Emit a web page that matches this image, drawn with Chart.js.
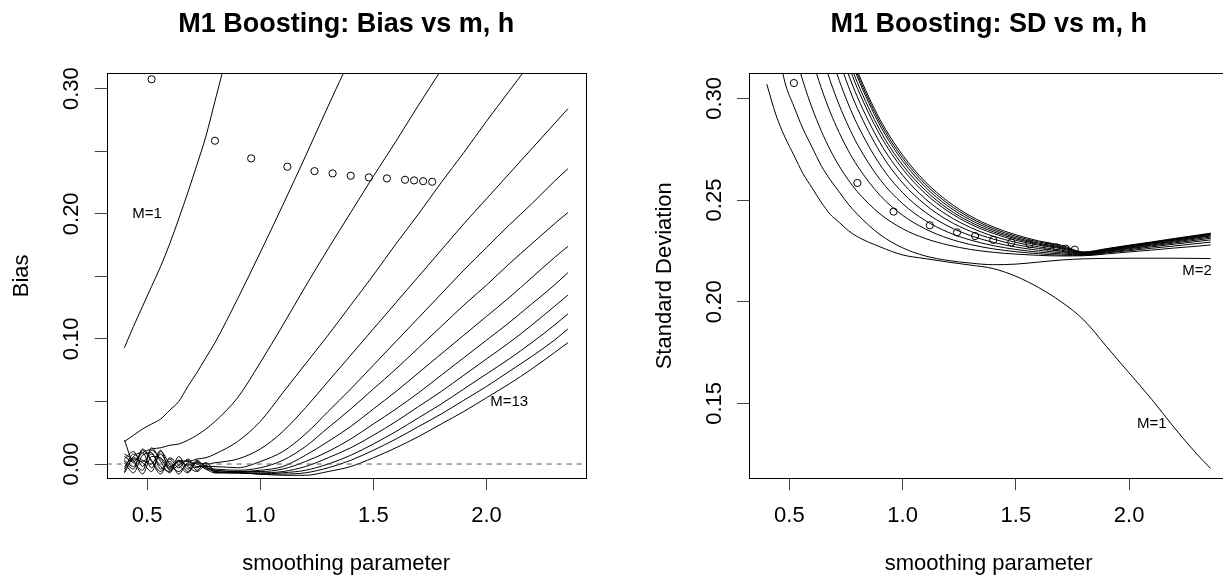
<!DOCTYPE html>
<html>
<head>
<meta charset="utf-8">
<title>M1 Boosting: Bias and SD vs m, h</title>
<script src="https://cdn.jsdelivr.net/npm/chart.js@4.4.1/dist/chart.umd.min.js"></script>
<style>
  html, body { margin: 0; padding: 0; background: #fff; overflow: hidden; }
  #wrap { position: relative; width: 1223px; height: 579px; overflow: hidden; }
  canvas { position: absolute; top: 0; }
  #biasChart { left: 0; }
  #sdChart { left: 611px; }
</style>
</head>
<body>
<div id="wrap">
  <canvas id="biasChart" width="611" height="579"></canvas>
  <canvas id="sdChart" width="640" height="579"></canvas>
</div>
<script>
// smoothing parameter grid (h)
const hGrid = [0.40, 0.44, 0.48, 0.52, 0.56, 0.60, 0.64, 0.68, 0.72, 0.76, 0.80,
               0.90, 1.00, 1.10, 1.20, 1.30, 1.40, 1.50, 1.60, 1.70, 1.80,
               1.90, 2.00, 2.10, 2.20, 2.30, 2.36];
const hMin = 0.3216;
const hMax = 2.4384;

// Bias curves, one per number of boosting steps M
const biasM1  = [0.093, 0.110, 0.126, 0.142, 0.158, 0.176, 0.196, 0.217, 0.239, 0.262, 0.290, 0.360, null, null, null, null, null, null, null, null, null, null, null, null, null, null, null];
const biasM2  = [0.018, 0.023, 0.028, 0.032, 0.036, 0.043, 0.050, 0.062, 0.073, 0.085, 0.097, 0.132, 0.169, 0.207, 0.246, 0.286, 0.325, null, null, null, null, null, null, null, null, null, null];
const biasM3  = [0.019, 0.002, 0.009, 0.012, 0.013, 0.015, 0.016, 0.019, 0.023, 0.028, 0.034, 0.053, 0.081, 0.111, 0.142, 0.172, 0.201, 0.230, 0.258, 0.287, 0.315, null, null, null, null, null, null];
const biasM4  = [0.004, 0.010, -0.002, 0.011, 0.004, -0.004, 0.003, 0.002, 0.004, 0.005, 0.008, 0.018, 0.034, 0.057, 0.080, 0.103, 0.127, 0.151, 0.176, 0.200, 0.225, 0.249, 0.274, 0.298, 0.322, null, null];
const biasM5  = [-0.006, 0.006, 0.009, -0.003, 0.008, -0.002, 0.002, -0.001, 0.001, 0.000, 0.001, 0.004, 0.012, 0.026, 0.045, 0.066, 0.087, 0.108, 0.129, 0.150, 0.171, 0.192, 0.212, 0.232, 0.252, 0.272, 0.284];
const biasM6  = [0.002, -0.004, 0.012, 0.003, -0.006, 0.004, -0.003, 0.004, -0.002, -0.002, -0.002, -0.003, 0.002, 0.010, 0.024, 0.042, 0.060, 0.079, 0.098, 0.117, 0.136, 0.155, 0.173, 0.191, 0.208, 0.226, 0.236];
const biasM7  = [0.006, 0.001, -0.005, 0.013, 0.002, -0.007, 0.006, -0.004, 0.003, -0.003, -0.004, -0.005, -0.003, 0.003, 0.014, 0.029, 0.044, 0.060, 0.076, 0.093, 0.110, 0.127, 0.143, 0.160, 0.176, 0.192, 0.201];
const biasM8  = [-0.004, 0.008, 0.003, 0.000, 0.011, -0.005, -0.001, 0.003, -0.005, 0.001, -0.005, -0.006, -0.005, -0.002, 0.007, 0.018, 0.030, 0.044, 0.058, 0.073, 0.088, 0.103, 0.118, 0.133, 0.149, 0.165, 0.174];
const biasM9  = [0.001, -0.007, 0.007, 0.009, -0.004, 0.002, -0.008, 0.001, 0.000, -0.004, -0.005, -0.006, -0.006, -0.004, 0.002, 0.010, 0.020, 0.032, 0.044, 0.057, 0.071, 0.085, 0.099, 0.113, 0.128, 0.143, 0.153];
const biasM10 = [0.008, 0.003, -0.008, 0.006, 0.005, -0.003, 0.002, -0.006, 0.002, -0.002, -0.006, -0.007, -0.007, -0.006, -0.002, 0.005, 0.013, 0.023, 0.034, 0.046, 0.058, 0.071, 0.084, 0.097, 0.111, 0.126, 0.135];
const biasM11 = [-0.002, 0.005, 0.001, -0.006, 0.010, 0.000, -0.006, 0.000, -0.003, 0.001, -0.006, -0.007, -0.008, -0.007, -0.005, 0.000, 0.007, 0.016, 0.026, 0.037, 0.048, 0.060, 0.072, 0.084, 0.097, 0.111, 0.120];
const biasM12 = [0.003, -0.002, 0.011, 0.002, -0.008, 0.005, -0.001, -0.007, 0.001, -0.004, -0.007, -0.007, -0.008, -0.008, -0.007, -0.003, 0.003, 0.011, 0.020, 0.030, 0.040, 0.051, 0.062, 0.074, 0.086, 0.099, 0.108];
const biasM13 = [-0.007, 0.004, 0.002, 0.008, -0.002, -0.006, 0.003, -0.002, -0.006, -0.001, -0.007, -0.007, -0.008, -0.009, -0.009, -0.006, -0.002, 0.005, 0.013, 0.022, 0.032, 0.042, 0.053, 0.064, 0.076, 0.089, 0.097];

// Standard deviation curves
const sdM1  = [0.307, 0.292, 0.281, 0.272, 0.263, 0.256, 0.249, 0.243, 0.239, 0.235, 0.232, 0.227, 0.223, 0.2212, 0.2195, 0.218, 0.2163, 0.2125, 0.207, 0.200, 0.191, 0.178, 0.165, 0.152, 0.138, 0.125, 0.118];
const sdM2  = [null, 0.330, 0.308, 0.296, 0.285, 0.276, 0.267, 0.260, 0.254, 0.248, 0.243, 0.233, 0.2265, 0.2225, 0.2203, 0.219, 0.2182, 0.2185, 0.2195, 0.2205, 0.2211, 0.2213, 0.2214, 0.2214, 0.2214, 0.2213, 0.2212];
const sdM3  = [null, null, null, 0.3238, 0.3084, 0.2953, 0.2842, 0.2747, 0.2667, 0.2599, 0.2541, 0.2432, 0.2359, 0.2311, 0.2279, 0.2257, 0.2243, 0.2234, 0.2228, 0.2225, 0.2226, 0.2235, 0.2245, 0.2254, 0.2264, 0.2273, 0.2279];
const sdM4  = [null, null, null, null, null, 0.3192, 0.3053, 0.2933, 0.2831, 0.2743, 0.2668, 0.2523, 0.2425, 0.2358, 0.2312, 0.2281, 0.2260, 0.2246, 0.2236, 0.2229, 0.2228, 0.2240, 0.2251, 0.2263, 0.2274, 0.2286, 0.2293];
const sdM5  = [null, null, null, null, null, null, 0.3226, 0.3087, 0.2967, 0.2864, 0.2774, 0.2601, 0.2482, 0.2399, 0.2342, 0.2303, 0.2276, 0.2257, 0.2244, 0.2235, 0.2230, 0.2243, 0.2256, 0.2270, 0.2283, 0.2296, 0.2304];
const sdM6  = [null, null, null, null, null, null, null, 0.3222, 0.3088, 0.2972, 0.2871, 0.2674, 0.2536, 0.2440, 0.2372, 0.2325, 0.2292, 0.2269, 0.2253, 0.2241, 0.2232, 0.2246, 0.2261, 0.2275, 0.2289, 0.2303, 0.2312];
const sdM7  = [null, null, null, null, null, null, null, null, 0.3185, 0.3060, 0.2951, 0.2736, 0.2584, 0.2477, 0.2400, 0.2346, 0.2308, 0.2281, 0.2262, 0.2248, 0.2234, 0.2249, 0.2264, 0.2279, 0.2294, 0.2309, 0.2318];
const sdM8  = [null, null, null, null, null, null, null, null, 0.3249, 0.3120, 0.3007, 0.2782, 0.2622, 0.2506, 0.2424, 0.2365, 0.2322, 0.2292, 0.2270, 0.2254, 0.2236, 0.2252, 0.2267, 0.2283, 0.2298, 0.2314, 0.2323];
const sdM9  = [null, null, null, null, null, null, null, null, null, 0.3165, 0.3050, 0.2820, 0.2653, 0.2532, 0.2445, 0.2381, 0.2336, 0.2302, 0.2278, 0.2261, 0.2238, 0.2254, 0.2270, 0.2286, 0.2302, 0.2317, 0.2327];
const sdM10 = [null, null, null, null, null, null, null, null, null, 0.3195, 0.3078, 0.2843, 0.2672, 0.2548, 0.2457, 0.2391, 0.2344, 0.2309, 0.2283, 0.2265, 0.2240, 0.2256, 0.2272, 0.2288, 0.2304, 0.2320, 0.2330];
const sdM11 = [null, null, null, null, null, null, null, null, null, 0.3225, 0.3106, 0.2867, 0.2692, 0.2564, 0.2470, 0.2402, 0.2352, 0.2315, 0.2288, 0.2268, 0.2241, 0.2257, 0.2274, 0.2290, 0.2307, 0.2323, 0.2333];
const sdM12 = [null, null, null, null, null, null, null, null, null, 0.3238, 0.3120, 0.2882, 0.2707, 0.2578, 0.2482, 0.2412, 0.2360, 0.2322, 0.2294, 0.2273, 0.2243, 0.2259, 0.2276, 0.2292, 0.2309, 0.2325, 0.2335];
const sdM13 = [null, null, null, null, null, null, null, null, null, 0.3250, 0.3134, 0.2896, 0.2721, 0.2590, 0.2493, 0.2421, 0.2368, 0.2329, 0.2299, 0.2278, 0.2245, 0.2261, 0.2278, 0.2294, 0.2311, 0.2327, 0.2337];

// open circles, drawn on both panels
const optH   = [0.52, 0.80, 0.96, 1.12, 1.24, 1.32, 1.40, 1.48, 1.56, 1.64, 1.68, 1.72, 1.76];
const optVal = [0.3075, 0.2584, 0.2443, 0.2376, 0.2341, 0.2323, 0.2304, 0.2291, 0.2283, 0.2272, 0.2267, 0.2261, 0.2256];

// axes
const xTicks = [0.5, 1.0, 1.5, 2.0];
const biasTicks = [0.00, 0.05, 0.10, 0.15, 0.20, 0.25, 0.30];
const biasTickLabels = ['0.00', '', '0.10', '', '0.20', '', '0.30'];
const sdTicks = [0.15, 0.20, 0.25, 0.30];
const sdTickLabels = ['0.15', '0.20', '0.25', '0.30'];

// curve annotations
const biasNotes = ['M=1', 'M=13'];
const biasNoteX = [0.5, 2.1];
const biasNoteY = [0.20, 0.05];
const sdNotes = ['M=2', 'M=1'];
const sdNoteX = [2.3, 2.1];
const sdNoteY = [0.215, 0.14];

const FONT = '"Liberation Sans", Arial, Helvetica, sans-serif';
Chart.defaults.font.family = FONT;
Chart.defaults.color = '#000';

function curve(vals) {
    return {
        data: hGrid.map((h, i) => ({ x: h, y: vals[i] })),
        borderColor: '#000',
        borderWidth: 1,
        pointRadius: 0,
        fill: false,
        cubicInterpolationMode: 'monotone'
    };
}

function circles() {
    return {
        data: optH.map((h, i) => ({ x: h, y: optVal[i] })),
        showLine: false,
        pointRadius: 3.6,
        pointBorderWidth: 1,
        pointBorderColor: '#000',
        pointBackgroundColor: 'rgba(0,0,0,0)'
    };
}

// box, titles, rotated y tick labels and curve notes
const panelText = {
    id: 'panelText',
    afterDraw(chart, args, o) {
        const { ctx, chartArea: a, scales } = chart;
        const xs = scales.x, ys = scales.y;
        const cx = (a.left + a.right) / 2;
        const cy = (a.top + a.bottom) / 2;
        ctx.save();
        ctx.strokeStyle = '#000';
        ctx.lineWidth = 1;
        ctx.strokeRect(Math.round(a.left) + 0.5, Math.round(a.top) + 0.5,
                       Math.round(a.right - a.left), Math.round(a.bottom - a.top));

        ctx.fillStyle = '#000';
        ctx.textAlign = 'center';
        ctx.textBaseline = 'alphabetic';
        ctx.font = 'bold 27px ' + FONT;
        ctx.fillText(o.title, cx, 31.5);

        ctx.font = '22px ' + FONT;
        ctx.fillText(o.xTitle, cx, 570);

        o.ticks.forEach((v, i) => {
            if (!o.tickLabels[i]) return;
            ctx.save();
            ctx.translate(a.left - 28.4, ys.getPixelForValue(v));
            ctx.rotate(-Math.PI / 2);
            ctx.fillText(o.tickLabels[i], 0, 0);
            ctx.restore();
        });

        ctx.save();
        ctx.translate(a.left - 78.4, cy);
        ctx.rotate(-Math.PI / 2);
        ctx.fillText(o.yTitle, 0, 0);
        ctx.restore();

        ctx.font = '15px ' + FONT;
        ctx.textBaseline = 'middle';
        o.notes.forEach((t, i) => {
            ctx.fillText(t, xs.getPixelForValue(o.noteX[i]), ys.getPixelForValue(o.noteY[i]));
        });
        ctx.restore();
    }
};

function makeOptions(cfg) {
    return {
        responsive: false,
        animation: false,
        devicePixelRatio: 1,
        events: [],
        layout: { padding: { left: 0, right: cfg.padRight, top: 73.3, bottom: 0 } },
        plugins: {
            legend: { display: false },
            tooltip: { enabled: false },
            panelText: cfg.text
        },
        scales: {
            x: {
                type: 'linear',
                min: hMin,
                max: hMax,
                afterBuildTicks: axis => { axis.ticks = xTicks.map(v => ({ value: v })); },
                afterFit: axis => { axis.height = 100.7; },
                ticks: {
                    font: { size: 22 },
                    color: '#000',
                    padding: 12.5,
                    autoSkip: false,
                    maxRotation: 0,
                    callback: v => Number(v).toFixed(1)
                },
                grid: { drawOnChartArea: false, drawTicks: true, tickLength: 12, color: '#444' },
                border: { display: false }
            },
            y: {
                type: 'linear',
                min: cfg.yMin,
                max: cfg.yMax,
                afterBuildTicks: axis => { axis.ticks = cfg.yTicks.map(v => ({ value: v })); },
                afterFit: axis => { axis.width = cfg.yWidth; },
                ticks: { display: false },
                grid: { drawOnChartArea: false, drawTicks: true, tickLength: 12, color: '#444' },
                border: { display: false }
            }
        }
    };
}

const biasCurves = [biasM1, biasM2, biasM3, biasM4, biasM5, biasM6, biasM7,
                    biasM8, biasM9, biasM10, biasM11, biasM12, biasM13];
const sdCurves = [sdM1, sdM2, sdM3, sdM4, sdM5, sdM6, sdM7,
                  sdM8, sdM9, sdM10, sdM11, sdM12, sdM13];

const zeroLine = {
    data: [{ x: hMin, y: 0 }, { x: hMax, y: 0 }],
    borderColor: '#555',
    borderWidth: 1,
    borderDash: [5, 5],
    pointRadius: 0
};

new Chart(document.getElementById('biasChart').getContext('2d'), {
    type: 'line',
    data: { datasets: [zeroLine, ...biasCurves.map(curve), circles()] },
    options: makeOptions({
        padRight: 25.3,
        yMin: -0.0114,
        yMax: 0.3123,
        yTicks: biasTicks,
        yWidth: 106.7,
        text: {
            title: 'M1 Boosting: Bias vs m, h',
            xTitle: 'smoothing parameter',
            yTitle: 'Bias',
            ticks: biasTicks,
            tickLabels: biasTickLabels,
            notes: biasNotes,
            noteX: biasNoteX,
            noteY: biasNoteY
        }
    }),
    plugins: [panelText]
});

new Chart(document.getElementById('sdChart').getContext('2d'), {
    type: 'line',
    data: { datasets: [...sdCurves.map(curve), circles()] },
    options: makeOptions({
        padRight: 22.6,
        yMin: 0.1132,
        yMax: 0.3123,
        yTicks: sdTicks,
        yWidth: 138,
        text: {
            title: 'M1 Boosting: SD vs m, h',
            xTitle: 'smoothing parameter',
            yTitle: 'Standard Deviation',
            ticks: sdTicks,
            tickLabels: sdTickLabels,
            notes: sdNotes,
            noteX: sdNoteX,
            noteY: sdNoteY
        }
    }),
    plugins: [panelText]
});
</script>
</body>
</html>
